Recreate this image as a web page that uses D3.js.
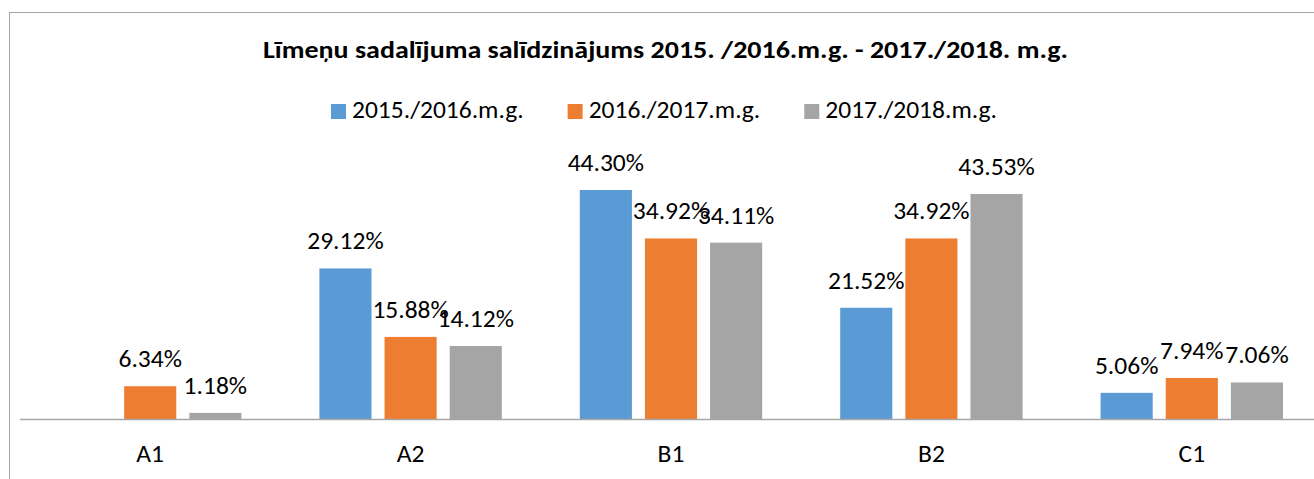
<!DOCTYPE html>
<html>
<head>
<meta charset="utf-8">
<script src="https://cdn.jsdelivr.net/npm/d3@7"></script>
<style>
  html, body { margin: 0; padding: 0; background: #fff; }
  svg { display: block; font-family: Carlito, Calibri, Lato, "Open Sans", sans-serif; }
</style>
</head>
<body>
<svg id="chart" width="1314" height="479"></svg>
<script>
const title = "Līmeņu sadalījuma salīdzinājums 2015. /2016.m.g. - 2017./2018. m.g.";
const categories = ["A1", "A2", "B1", "B2", "C1"];
const seriesNames = ["2015./2016.m.g.", "2016./2017.m.g.", "2017./2018.m.g."];
const s2015 = [null, 29.12, 44.30, 21.52, 5.06];
const s2016 = [6.34, 15.88, 34.92, 34.92, 7.94];
const s2017 = [1.18, 14.12, 34.11, 43.53, 7.06];
const colors = ["#5b9bd5", "#ed7d31", "#a5a5a5"];
const yMax = 50;

const series = [s2015, s2016, s2017];
const svg = d3.select("#chart");
const fs = 25.5;

// outer border
svg.append("rect").attr("x", 9.5).attr("y", 12.5).attr("width", 1400).attr("height", 600)
  .attr("fill", "none").attr("stroke", "#a6a6a6").attr("stroke-width", 1);

const x0 = d3.scaleBand().domain(categories).range([20, 1322]).paddingInner(0).paddingOuter(0);
const x1 = d3.scaleBand().domain(d3.range(series.length)).range([39, x0.bandwidth() - 39]).paddingInner(0.2).paddingOuter(0);
const y = d3.scaleLinear().domain([0, yMax]).range([419, 160.5]);

// bars
const groups = svg.append("g").selectAll("g").data(categories).join("g")
  .attr("transform", d => `translate(${x0(d)},0)`);

series.forEach((vals, si) => {
  groups.append("rect")
    .filter((d, i) => vals[i] != null)
    .attr("x", x1(si))
    .attr("width", x1.bandwidth())
    .attr("y", (d) => y(vals[categories.indexOf(d)]))
    .attr("height", (d) => y(0) - y(vals[categories.indexOf(d)]))
    .attr("fill", colors[si]);
});

// axis line
svg.append("line").attr("x1", 20).attr("x2", 1314).attr("y1", 419.5).attr("y2", 419.5)
  .attr("stroke", "#a6a6a6").attr("stroke-width", 1.3);

// data labels
series.forEach((vals, si) => {
  groups.append("text")
    .filter((d, i) => vals[i] != null)
    .attr("x", x1(si) + x1.bandwidth() / 2)
    .attr("y", d => y(vals[categories.indexOf(d)]) - 19)
    .attr("text-anchor", "middle")
    .attr("font-size", fs)
    .attr("fill", "#000")
    .text(d => vals[categories.indexOf(d)].toFixed(2) + "%");
});

// category axis labels
const xAxis = d3.axisBottom(x0).tickSize(0).tickPadding(0);
const gx = svg.append("g").attr("transform", "translate(0,419)").call(xAxis);
gx.select(".domain").remove();
gx.selectAll("text").attr("font-size", fs).attr("fill", "#000")
  .attr("font-family", "Carlito, Calibri, Lato, sans-serif").attr("dy", null).attr("y", 43);

// title
svg.append("text").attr("x", 665.5).attr("y", 58).attr("text-anchor", "middle")
  .attr("font-size", 24).attr("font-weight", "bold").attr("fill", "#000")
  .attr("textLength", 805).attr("lengthAdjust", "spacingAndGlyphs")
  .text(title);

// legend
const legend = svg.append("g");
let lx = 331;
seriesNames.forEach((name, i) => {
  legend.append("rect").attr("x", lx).attr("y", 104).attr("width", 15).attr("height", 15).attr("fill", colors[i]);
  const t = legend.append("text").attr("x", lx + 21).attr("y", 118).attr("font-size", fs).attr("fill", "#000").text(name);
  const w = t.node().getComputedTextLength();
  lx += 21 + w + 44;
});
</script>
</body>
</html>
